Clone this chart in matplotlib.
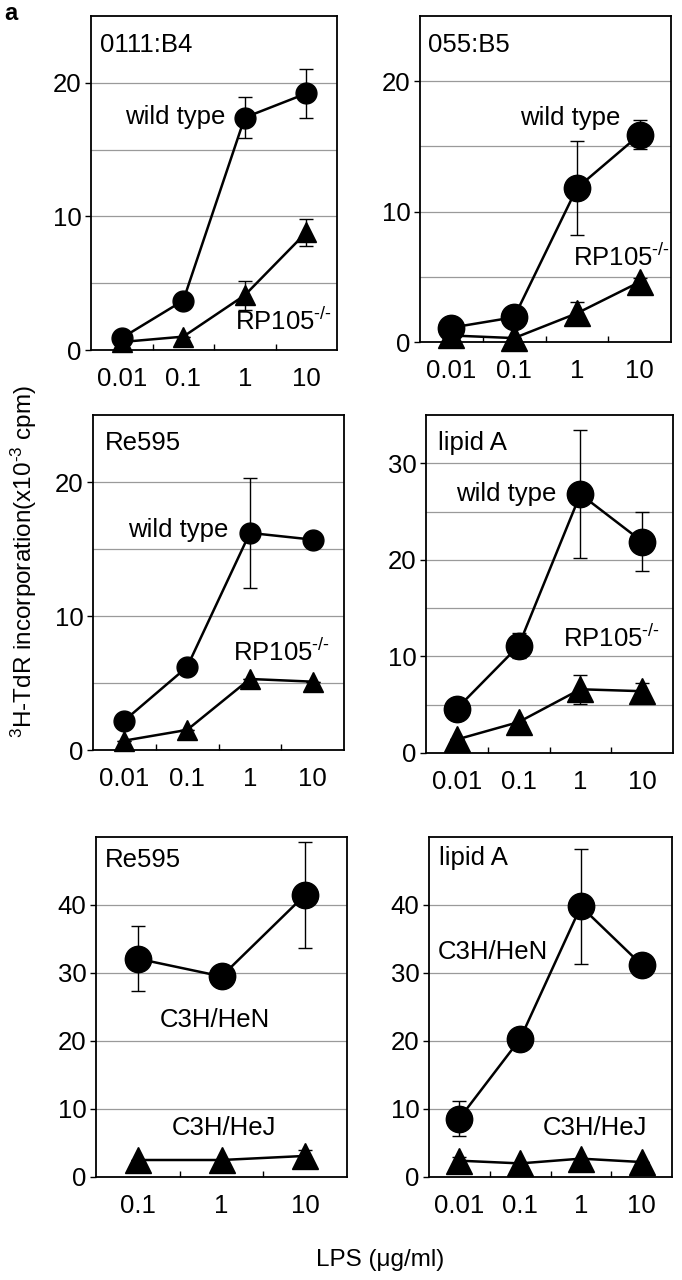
import matplotlib
matplotlib.use("Agg")
import matplotlib.pyplot as plt
import numpy as np

plt.rcParams['font.family'] = ['Liberation Sans', 'DejaVu Sans']
plt.rcParams['mathtext.default'] = 'regular'

# dose categories (LPS ug/ml)
doses4 = ['0.01', '0.1', '1', '10']
doses3 = ['0.1', '1', '10']

# panel 1: 0111:B4
p1_wt = [0.9, 3.7, 17.4, 19.2]
p1_wt_err = [0, 0, 1.5, 1.8]
p1_ko = [0.6, 1.0, 4.1, 8.8]
p1_ko_err = [0, 0, 1.1, 1.0]

# panel 2: 055:B5
p2_wt = [1.1, 1.9, 11.8, 15.9]
p2_wt_err = [0, 0, 3.6, 1.1]
p2_ko = [0.5, 0.3, 2.2, 4.6]
p2_ko_err = [0, 0, 0.9, 0.3]

# panel 3: Re595
p3_wt = [2.2, 6.2, 16.2, 15.7]
p3_wt_err = [0, 0, 4.1, 0]
p3_ko = [0.7, 1.5, 5.3, 5.1]
p3_ko_err = [0, 0, 0, 0]

# panel 4: lipid A
p4_wt = [4.6, 11.1, 26.8, 21.9]
p4_wt_err = [0, 1.3, 6.6, 3.1]
p4_ko = [1.4, 3.2, 6.6, 6.4]
p4_ko_err = [0, 0, 1.5, 0.8]

# panel 5: Re595, C3H strains
p5_hen = [32.1, 29.5, 41.5]
p5_hen_err = [4.8, 0, 7.8]
p5_hej = [2.5, 2.5, 3.1]
p5_hej_err = [0, 0, 0.8]

# panel 6: lipid A, C3H strains
p6_hen = [8.6, 20.3, 39.8, 31.2]
p6_hen_err = [2.6, 0, 8.5, 0]
p6_hej = [2.4, 2.0, 2.7, 2.2]
p6_hej_err = [0.6, 0, 0, 0]

W, H = 682, 1280
fig = plt.figure(figsize=(W / 100, H / 100), dpi=100)

FS = 18.5
KO = 'RP105$^{\u2010/\u2010}$'


def make_ax(l, r, t, b):
    """axes from pixel box"""
    return fig.add_axes([l / W, 1 - b / H, (r - l) / W, (b - t) / H])


def draw(ax, cats, ymax, ystep, gstep, s1, e1, s2, e2, ms):
    x = np.arange(len(cats))
    ax.set_xlim(-0.5, len(cats) - 0.5)
    ax.set_ylim(0, ymax)
    for g in np.arange(gstep, ymax, gstep):
        ax.axhline(g, color='#9a9a9a', lw=0.9, zorder=0)
    for vals, err, mk in [(s1, e1, 'o'), (s2, e2, '^')]:
        ax.errorbar(x, vals, yerr=err, fmt='none', ecolor='black', elinewidth=1.0,
                    capsize=5, capthick=1.0, zorder=2)
        ax.plot(x, vals, color='black', lw=1.8, marker=mk, ms=ms, zorder=3, clip_on=False)
    ax.set_xticks(x)
    ax.set_xticklabels(cats)
    ax.set_xticks(np.arange(len(cats) - 1) + 0.5, minor=True)
    ax.tick_params(axis='x', which='major', length=0, pad=12, labelsize=FS)
    ax.tick_params(axis='x', which='minor', direction='in', length=4, width=1)
    ax.set_yticks(np.arange(0, ymax, ystep))
    ax.tick_params(axis='y', direction='out', length=4, width=1, pad=3, labelsize=FS)
    for sp in ax.spines.values():
        sp.set_linewidth(1.3)


def label(ax, x, y, s, ha='left'):
    ax.text(x, y, s, transform=ax.transAxes, ha=ha, va='center', fontsize=FS)


ax1 = make_ax(91, 337, 16, 350)
draw(ax1, doses4, 25, 10, 5, p1_wt, p1_wt_err, p1_ko, p1_ko_err, 15)
label(ax1, 0.037, 0.913, '0111:B4')
label(ax1, 0.545, 0.698, 'wild type', ha='right')
label(ax1, 0.585, 0.084, KO)

ax2 = make_ax(420, 671, 16, 342)
draw(ax2, doses4, 25, 10, 5, p2_wt, p2_wt_err, p2_ko, p2_ko_err, 19)
label(ax2, 0.032, 0.911, '055:B5')
label(ax2, 0.80, 0.687, 'wild type', ha='right')
label(ax2, 0.61, 0.26, KO)

ax3 = make_ax(93, 344, 415, 750)
draw(ax3, doses4, 25, 10, 5, p3_wt, p3_wt_err, p3_ko, p3_ko_err, 15)
label(ax3, 0.048, 0.916, 'Re595')
label(ax3, 0.538, 0.657, 'wild type', ha='right')
label(ax3, 0.558, 0.29, KO)

ax4 = make_ax(426, 673, 415, 753)
draw(ax4, doses4, 35, 10, 5, p4_wt, p4_wt_err, p4_ko, p4_ko_err, 19)
label(ax4, 0.049, 0.917, 'lipid A')
label(ax4, 0.526, 0.766, 'wild type', ha='right')
label(ax4, 0.555, 0.34, KO)

ax5 = make_ax(96, 347, 837, 1177)
draw(ax5, doses3, 50, 10, 10, p5_hen, p5_hen_err, p5_hej, p5_hej_err, 19)
label(ax5, 0.036, 0.932, 'Re595')
label(ax5, 0.255, 0.462, 'C3H/HeN')
label(ax5, 0.303, 0.144, 'C3H/HeJ')

ax6 = make_ax(429, 672, 837, 1177)
draw(ax6, doses4, 50, 10, 10, p6_hen, p6_hen_err, p6_hej, p6_hej_err, 19)
label(ax6, 0.041, 0.938, 'lipid A')
label(ax6, 0.037, 0.662, 'C3H/HeN')
label(ax6, 0.469, 0.144, 'C3H/HeJ')

fig.text(24 / W, 1 - 562 / H, '$^{3}$H-TdR incorporation(x10$^{\u20103}$ cpm)',
         rotation=90, ha='center', va='center', fontsize=17.5)
fig.text(380 / W, 1 - 1260 / H, 'LPS (\u03bcg/ml)', ha='center', va='center', fontsize=17.5)
fig.text(4 / W, 1 - 14 / H, 'a', ha='left', va='center', fontsize=17, fontweight='bold')

fig.savefig('out.png', dpi=100)
